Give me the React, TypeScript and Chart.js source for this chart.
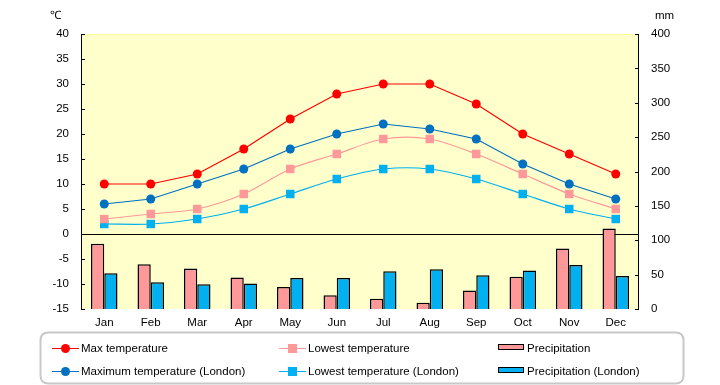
import React, { useEffect, useRef } from "react";
import { Chart, registerables } from "chart.js";

Chart.register(...registerables);

const months = ["Jan", "Feb", "Mar", "Apr", "May", "Jun", "Jul", "Aug", "Sep", "Oct", "Nov", "Dec"];
const maxTemp = [10, 10, 12, 17, 23, 28, 30, 30, 26, 20, 16, 12];
const lowTemp = [3, 4, 5, 8, 13, 16, 19, 19, 16, 12, 8, 5];
const maxTempLondon = [6, 7, 10, 13, 17, 20, 22, 21, 19, 14, 10, 7];
const lowTempLondon = [2, 2, 3, 5, 8, 11, 13, 13, 11, 8, 5, 3];
const precip = [95, 65, 59, 46, 32, 20, 15, 9, 27, 47, 88, 117];
const precipLondon = [52, 39, 36, 37, 45, 45, 55, 58, 49, 56, 64, 48];

const FONT = "'Liberation Sans', Arial, sans-serif";
const FS = 11.5;

const LEFT = 81;
const RIGHT_W = 81;
const TOP = 34;
const X_H = 76;

const bgPlugin = {
  id: "bgPlugin",
  beforeDatasetsDraw(chart: any) {
    const { ctx, chartArea } = chart;
    ctx.save();
    ctx.fillStyle = "#FFFFCC";
    ctx.fillRect(chartArea.left, chartArea.top, chartArea.right - chartArea.left, chartArea.bottom - chartArea.top);
    ctx.strokeStyle = "#FFFF99";
    ctx.lineWidth = 1;
    ctx.beginPath();
    ctx.moveTo(chartArea.left, chartArea.top + 0.5);
    ctx.lineTo(chartArea.right, chartArea.top + 0.5);
    ctx.stroke();
    // zero line
    const y0 = Math.round(chart.scales.y.getPixelForValue(0)) + 0.5;
    ctx.strokeStyle = "#000";
    ctx.beginPath();
    ctx.moveTo(chartArea.left, y0);
    ctx.lineTo(chartArea.right, y0);
    ctx.stroke();
    ctx.restore();
  },
  afterDraw(chart: any) {
    const { ctx, chartArea } = chart;
    ctx.save();
    // axis lines and inward ticks
    ctx.strokeStyle = "#000";
    ctx.lineWidth = 1;
    const yl = chart.scales.y;
    const yr = chart.scales.y1;
    ctx.beginPath();
    ctx.moveTo(chartArea.left + 0.5, chartArea.top);
    ctx.lineTo(chartArea.left + 0.5, chartArea.bottom);
    ctx.moveTo(chartArea.right - 0.5, chartArea.top);
    ctx.lineTo(chartArea.right - 0.5, chartArea.bottom);
    yl.ticks.forEach((t: any) => {
      const y = Math.round(yl.getPixelForValue(t.value)) + 0.5;
      ctx.moveTo(chartArea.left, y);
      ctx.lineTo(chartArea.left + 4, y);
    });
    yr.ticks.forEach((t: any) => {
      const y = Math.round(yr.getPixelForValue(t.value)) + 0.5;
      ctx.moveTo(chartArea.right, y);
      ctx.lineTo(chartArea.right - 4, y);
    });
    ctx.stroke();

    // unit titles
    ctx.fillStyle = "#000";
    ctx.font = `${FS}px ${FONT}`;
    ctx.textBaseline = "middle";
    ctx.textAlign = "left";
    ctx.fillText("℃", 50, 16);
    ctx.fillText("mm", 655, 16);

    // legend box
    const bx = 40.5, by = 332.5, bw = 643, bh = 51, r = 8;
    ctx.strokeStyle = "#C8C8C8";
    ctx.lineWidth = 2;
    ctx.beginPath();
    ctx.moveTo(bx + r, by);
    ctx.lineTo(bx + bw - r, by);
    ctx.quadraticCurveTo(bx + bw, by, bx + bw, by + r);
    ctx.lineTo(bx + bw, by + bh - r);
    ctx.quadraticCurveTo(bx + bw, by + bh, bx + bw - r, by + bh);
    ctx.lineTo(bx + r, by + bh);
    ctx.quadraticCurveTo(bx, by + bh, bx, by + bh - r);
    ctx.lineTo(bx, by + r);
    ctx.quadraticCurveTo(bx, by, bx + r, by);
    ctx.stroke();

    const ds = chart.data.datasets;
    const items = [
      { i: 2, x: 52, y: 348 },
      { i: 4, x: 279, y: 348 },
      { i: 0, x: 498, y: 348 },
      { i: 3, x: 52, y: 371 },
      { i: 5, x: 279, y: 371 },
      { i: 1, x: 498, y: 371 },
    ];
    items.forEach(({ i, x, y }) => {
      const d = ds[i];
      if (d.type === "bar") {
        ctx.fillStyle = d.backgroundColor;
        ctx.fillRect(x, y - 4, 26, 6);
        ctx.strokeStyle = "#000";
        ctx.lineWidth = 1;
        ctx.strokeRect(x + 0.5, y - 3.5, 25, 5);
      } else {
        ctx.strokeStyle = d.borderColor;
        ctx.lineWidth = 1;
        ctx.beginPath();
        ctx.moveTo(x, y + 0.5);
        ctx.lineTo(x + 27, y + 0.5);
        ctx.stroke();
        ctx.fillStyle = d.pointBackgroundColor;
        if (d.pointStyle === "rect") {
          ctx.fillRect(x + 13.5 - 4.5, y - 4, 9, 9);
        } else {
          ctx.beginPath();
          ctx.arc(x + 13.5, y + 0.5, 4.5, 0, Math.PI * 2);
          ctx.fill();
        }
      }
      ctx.fillStyle = "#000";
      ctx.font = `${FS}px ${FONT}`;
      ctx.textAlign = "left";
      ctx.textBaseline = "middle";
      ctx.fillText(d.label, x + 29, y + 1);
    });
    ctx.restore();
  },
};

export default function App() {
  const ref = useRef<HTMLCanvasElement | null>(null);
  useEffect(() => {
    if (!ref.current) return;
    const lineDs = (label: string, data: number[], color: string, style: string, tension: number) => ({
      type: "line" as const,
      label,
      data,
      yAxisID: "y",
      borderColor: color,
      backgroundColor: color,
      pointBackgroundColor: color,
      pointBorderColor: color,
      pointStyle: style,
      pointRadius: style === "rect" ? 6 : 4.5,
      pointBorderWidth: 0,
      borderWidth: 1.2,
      tension,
      order: 0,
      fill: false,
    });
    const chart = new Chart(ref.current, {
      type: "bar",
      data: {
        labels: months,
        datasets: [
          {
            type: "bar",
            label: "Precipitation",
            data: precip,
            yAxisID: "y1",
            backgroundColor: "#FF9999",
            borderColor: "#000000",
            borderWidth: 1.5,
            categoryPercentage: 0.57,
            barPercentage: 1,
            order: 2,
          },
          {
            type: "bar",
            label: "Precipitation (London)",
            data: precipLondon,
            yAxisID: "y1",
            backgroundColor: "#00B0F0",
            borderColor: "#000000",
            borderWidth: 1.5,
            categoryPercentage: 0.57,
            barPercentage: 1,
            order: 2,
          },
          lineDs("Max temperature", maxTemp, "#FF0000", "circle", 0),
          lineDs("Maximum temperature (London)", maxTempLondon, "#0070C0", "circle", 0),
          lineDs("Lowest temperature", lowTemp, "#FF9999", "rect", 0.3),
          lineDs("Lowest temperature (London)", lowTempLondon, "#00B0F0", "rect", 0.3),
        ] as any,
      },
      options: {
        responsive: false,
        animation: false,
        layout: { padding: { top: TOP, left: 0, right: 0, bottom: 0 } },
        plugins: {
          legend: { display: false },
          tooltip: { enabled: false },
        },
        scales: {
          x: {
            offset: true,
            grid: { display: false, drawTicks: false },
            border: { display: false },
            ticks: { color: "#000", font: { family: FONT, size: FS }, padding: 7 },
            afterFit: (s: any) => {
              s.height = X_H;
            },
          },
          y: {
            position: "left",
            min: -15,
            max: 40,
            ticks: { stepSize: 5, color: "#000", font: { family: FONT, size: FS }, padding: 12 },
            grid: { display: false, drawTicks: false },
            border: { display: false },
            afterFit: (s: any) => {
              s.width = LEFT;
            },
          },
          y1: {
            position: "right",
            min: 0,
            max: 400,
            ticks: { stepSize: 50, color: "#000", font: { family: FONT, size: FS }, padding: 12 },
            grid: { display: false, drawTicks: false },
            border: { display: false },
            afterFit: (s: any) => {
              s.width = RIGHT_W;
            },
          },
        },
      } as any,
      plugins: [bgPlugin],
    });
    return () => chart.destroy();
  }, []);
  return (
    <div style={{ position: "absolute", left: 0, top: 0, width: 720, height: 385, background: "#fff" }}>
      <canvas ref={ref} width={720} height={385} style={{ display: "block" }} />
    </div>
  );
}
